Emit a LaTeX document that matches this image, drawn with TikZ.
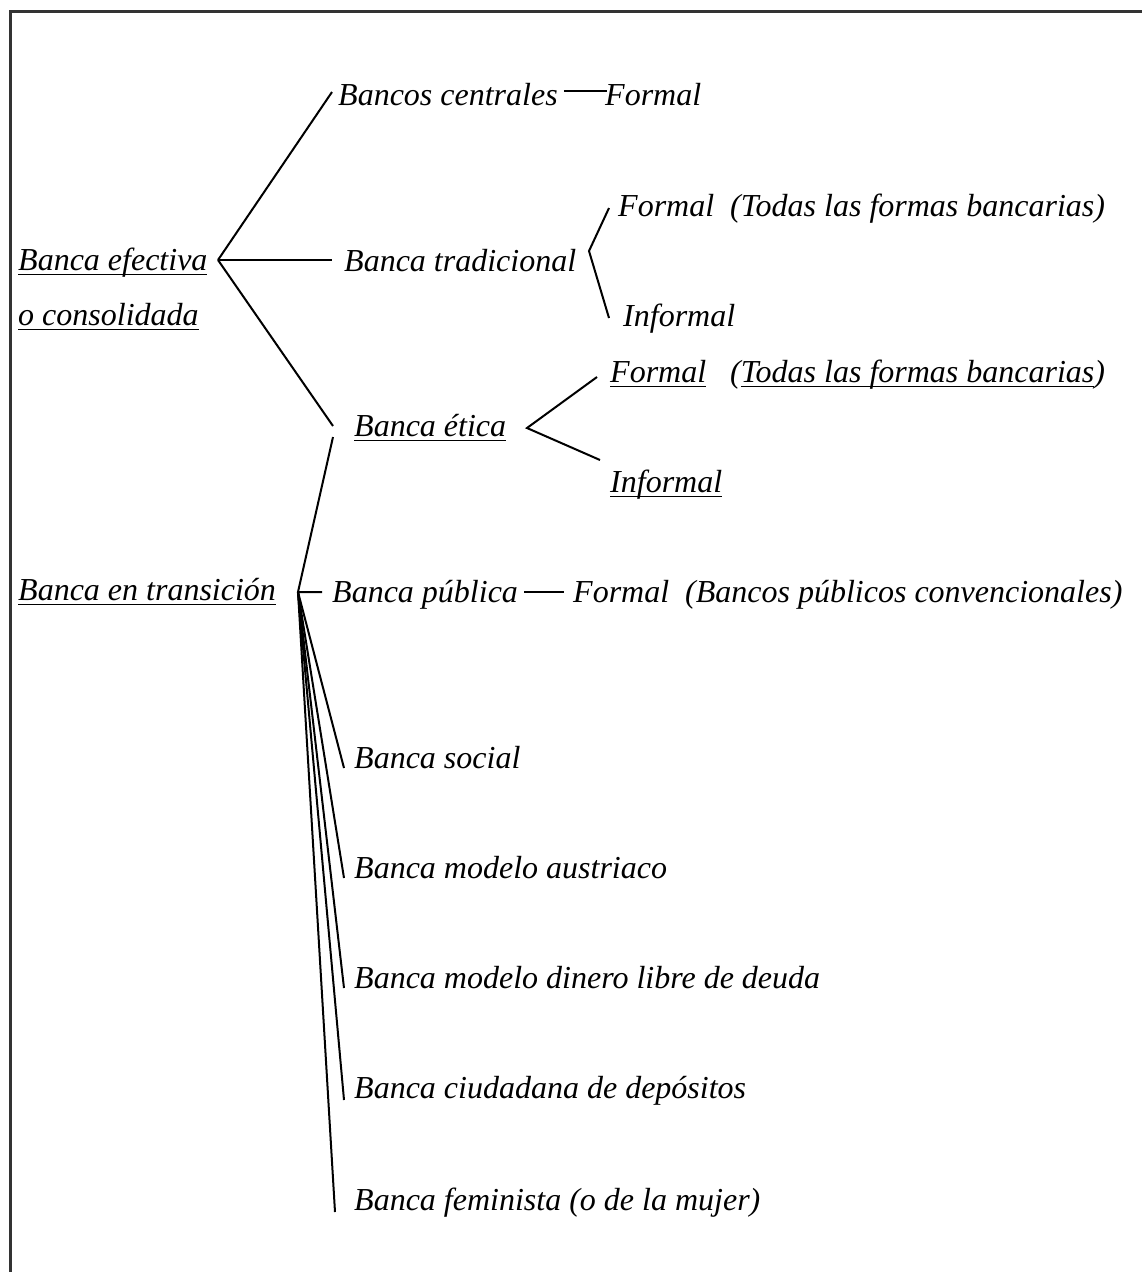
\documentclass[tikz,border=0pt]{standalone}
\usepackage{fontspec}
\setmainfont{Liberation Serif}
\newcommand{\ulin}[1]{\setbox0\hbox{#1}\rlap{\rule[-5pt]{\wd0}{1.5pt}}\box0}
\usepackage{tikz}
\usetikzlibrary{positioning}

\begin{document}
\begin{tikzpicture}[
  x=1pt, y=1pt,
  lbl/.style={anchor=base west, inner sep=0pt, font=\fontsize{32}{38}\selectfont\itshape},
  conn/.style={line width=2pt, black},
  frame/.style={line width=3pt, black!80}
]
\useasboundingbox (0,0) rectangle (1142,-1272);
\draw[frame] (10,-1272) -- (10,-11) -- (1142,-11);
\node[lbl] (efec) at (18,-270) {\ulin{Banca efectiva}};
\node[lbl] (conso) at (18,-325) {\ulin{o consolidada}};
\node[lbl] (centr) at (338,-105) {Bancos centrales};
\node[lbl] (centrF) at (605,-105) {Formal};
\node[lbl] (trad) at (344,-271) {Banca tradicional};
\node[lbl] (tradF) at (618,-216) {Formal~~(Todas las formas bancarias)};
\node[lbl] (tradI) at (623,-326) {Informal};
\node[lbl] (etica) at (354,-436) {\ulin{Banca ética}};
\node[lbl] (eticaF) at (610,-382) {\ulin{Formal}~~~(\ulin{Todas las formas bancarias})};
\node[lbl] (eticaI) at (610,-492) {\ulin{Informal}};
\node[lbl] (trans) at (18,-600) {\ulin{Banca en transición}};
\node[lbl] (pub) at (332,-602) {Banca pública};
\node[lbl] (pubF) at (573,-602) {Formal~~(Bancos públicos convencionales)};
\node[lbl] (social) at (354,-768) {Banca social};
\node[lbl] (austr) at (354,-878) {Banca modelo austriaco};
\node[lbl] (dinero) at (354,-988) {Banca modelo dinero libre de deuda};
\node[lbl] (depos) at (354,-1098) {Banca ciudadana de depósitos};
\node[lbl] (femin) at (354,-1210) {Banca feminista (o de la mujer)};
\coordinate (v1) at (218,-260);
\coordinate (v2) at (589,-251);
\coordinate (v3) at (527,-428);
\coordinate (v4) at (298,-592);
\draw[conn] (v1) -- ([xshift=-6pt, yshift=13pt]centr.base west);
\draw[conn] (v1) -- ([xshift=-12pt, yshift=11pt]trad.base west);
\draw[conn] (v1) -- ([xshift=-21pt, yshift=10pt]etica.base west);
\draw[conn] ([xshift=6pt, yshift=14pt]centr.base east) -- ([xshift=2pt, yshift=14pt]centrF.base west);
\draw[conn] ([xshift=-9pt, yshift=8pt]tradF.base west) -- (v2) -- ([xshift=-14pt, yshift=8pt]tradI.base west);
\draw[conn] ([xshift=-13pt, yshift=5pt]eticaF.base west) -- (v3) -- ([xshift=-10pt, yshift=32pt]eticaI.base west);
\draw[conn] ([xshift=-21pt, yshift=-1pt]etica.base west) -- (v4) -- ([xshift=-10pt, yshift=10pt]pub.base west);
\draw[conn] ([xshift=6pt, yshift=10pt]pub.base east) -- ([xshift=-9pt, yshift=10pt]pubF.base west);
\draw[conn] (v4) -- ([xshift=-10pt]social.base west);
\draw[conn] (v4) -- ([xshift=-10pt]austr.base west);
\draw[conn] (v4) -- ([xshift=-10pt]dinero.base west);
\draw[conn] (v4) -- ([xshift=-10pt, yshift=-2pt]depos.base west);
\draw[conn] (v4) -- ([xshift=-19pt, yshift=-2pt]femin.base west);
\end{tikzpicture}
\end{document}
